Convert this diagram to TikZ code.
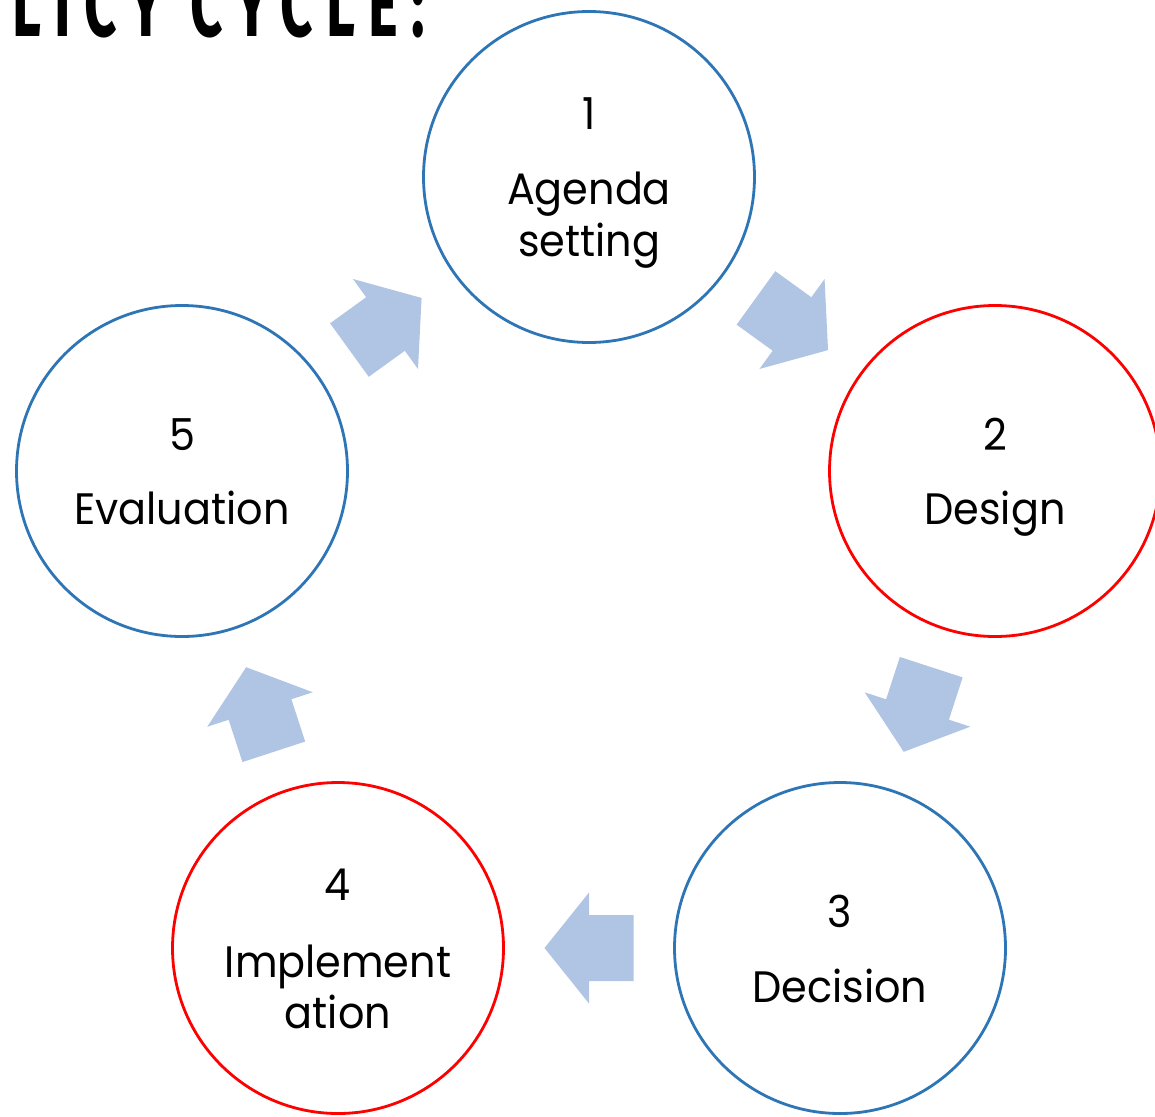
\documentclass[tikz,border=0pt]{standalone}
\usepackage{fontspec}
\setmainfont{Poppins}[FakeStretch=0.94]
\newfontfamily\titlefont[LetterSpace=24]{Fira Sans}
\usetikzlibrary{calc}
\definecolor{cblue}{RGB}{46,117,182}
\definecolor{cred}{RGB}{255,0,0}
\definecolor{afill}{RGB}{176,196,227}
\newcommand\cyclearrow[2]{%
  \coordinate (m#1#2) at ($(#1)!0.5!(#2)$);
  \coordinate (t#1#2) at ($(m#1#2)!-44.5pt!(#2)$);
  \fill[blockarrow]
    ($(t#1#2)!33pt!90:(#2)$) -- ($(m#1#2)!33pt!90:(#2)$) --
    ($(m#1#2)!55.5pt!90:(#2)$) -- ($(m#1#2)!44.5pt!(#2)$) --
    ($(m#1#2)!55.5pt!-90:(#2)$) -- ($(m#1#2)!33pt!-90:(#2)$) --
    ($(t#1#2)!33pt!-90:(#2)$) -- cycle;}
\begin{document}
\begin{tikzpicture}[x=1pt,y=-1pt,
  stage/.style={circle, line width=2.8pt, minimum size=331pt, inner sep=0pt},
  bluestage/.style={stage, draw=cblue},
  redstage/.style={stage, draw=cred},
  lbl/.style={anchor=base, inner sep=0pt, font=\fontsize{44}{52}\selectfont},
  blockarrow/.style={fill=afill, draw=none}]
\useasboundingbox (0,0) rectangle (1155,1116);
\clip (0,0) rectangle (1155,1116);
\fill[white] (0,0) rectangle (1155,1116);

\node[anchor=south west, inner sep=0pt] (title) at (12,38)
  {\resizebox{413pt}{66pt}{\titlefont\bfseries LICY CYCLE:}};

\node[bluestage] (c1) at (589,177) {};
\node[redstage]  (c2) at (995,471) {};
\node[bluestage] (c3) at (840,948) {};
\node[redstage]  (c4) at (338,948) {};
\node[bluestage] (c5) at (182,471) {};

\node[lbl] (n1) at (589,129) {1};
\node[lbl] (l1a) at (589,204) {Agenda};
\node[lbl] (l1b) at (589,256) {setting};

\node[lbl] (n2) at (995,450) {2};
\node[lbl] (l2) at (995,524) {Design};

\node[lbl] (n3) at (840,927) {3};
\node[lbl] (l3) at (840,1002) {Decision};

\node[lbl] (n4) at (338,900) {4};
\node[lbl] (l4a) at (338,977) {Implement};
\node[lbl] (l4b) at (338,1028) {ation};

\node[lbl] (n5) at (182,450) {5};
\node[lbl] (l5) at (182,524) {Evaluation};

\cyclearrow{c1}{c2}
\cyclearrow{c2}{c3}
\cyclearrow{c3}{c4}
\cyclearrow{c4}{c5}
\cyclearrow{c5}{c1}
\end{tikzpicture}
\end{document}
